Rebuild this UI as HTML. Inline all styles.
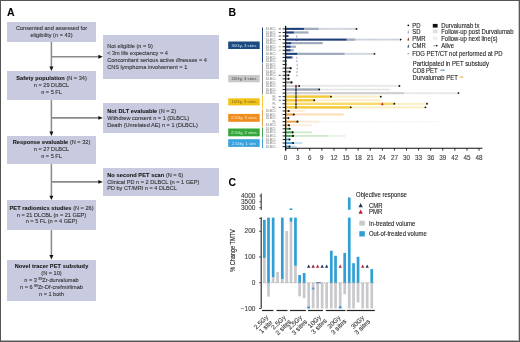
<!DOCTYPE html><html><head><meta charset="utf-8"><title>Figure</title><style>
html,body{margin:0;padding:0;background:#fff;}
#root{will-change:transform;position:relative;width:520px;height:342px;overflow:hidden;background:#fff;font-family:"Liberation Sans", sans-serif;}
.t{position:absolute;white-space:nowrap;line-height:1;-webkit-text-stroke:0.1px #333;} b{color:#111;letter-spacing:0.1px;}
sup{font-size:60%;vertical-align:0;position:relative;top:-0.55em;}
</style></head><body><div id="root">
<div class="t" style="left:7.00px;top:6.65px;font-size:10.5px;color:#000;font-weight:bold;">A</div>
<div style="position:absolute;left:7.00px;top:22.00px;width:89.00px;height:20.00px;background:#c8cadf;"></div>
<div class="t" style="left:7.00px;top:26.40px;width:89.00px;text-align:center;font-size:5.6px;color:#333;font-weight:normal;">Consented and assessed for</div>
<div class="t" style="left:7.00px;top:32.60px;width:89.00px;text-align:center;font-size:5.6px;color:#333;font-weight:normal;">eligibility (n = 43)</div>
<div style="position:absolute;left:7.00px;top:71.00px;width:89.00px;height:29.00px;background:#c8cadf;"></div>
<div class="t" style="left:7.00px;top:76.20px;width:89.00px;text-align:center;font-size:5.6px;color:#333;font-weight:normal;"><b>Safety population</b> (N = 34)</div>
<div class="t" style="left:7.00px;top:82.80px;width:89.00px;text-align:center;font-size:5.6px;color:#333;font-weight:normal;">n = 29 DLBCL</div>
<div class="t" style="left:7.00px;top:89.80px;width:89.00px;text-align:center;font-size:5.6px;color:#333;font-weight:normal;">n = 5 FL</div>
<div style="position:absolute;left:7.00px;top:136.00px;width:89.00px;height:28.00px;background:#c8cadf;"></div>
<div class="t" style="left:7.00px;top:140.20px;width:89.00px;text-align:center;font-size:5.6px;color:#333;font-weight:normal;"><b>Response evaluable</b> (N = 32)</div>
<div class="t" style="left:7.00px;top:147.20px;width:89.00px;text-align:center;font-size:5.6px;color:#333;font-weight:normal;">n = 27 DLBCL</div>
<div class="t" style="left:7.00px;top:153.80px;width:89.00px;text-align:center;font-size:5.6px;color:#333;font-weight:normal;">n = 5 FL</div>
<div style="position:absolute;left:7.00px;top:200.00px;width:89.00px;height:30.00px;background:#c8cadf;"></div>
<div class="t" style="left:7.00px;top:205.90px;width:89.00px;text-align:center;font-size:5.6px;color:#333;font-weight:normal;"><b>PET radiomics studies</b> (N = 26)</div>
<div class="t" style="left:7.00px;top:212.50px;width:89.00px;text-align:center;font-size:5.6px;color:#333;font-weight:normal;">n = 21 DLCBL (n = 21 GEP)</div>
<div class="t" style="left:7.00px;top:219.00px;width:89.00px;text-align:center;font-size:5.6px;color:#333;font-weight:normal;">n = 5 FL (n = 4 GEP)</div>
<div style="position:absolute;left:7.00px;top:259.50px;width:89.00px;height:41.00px;background:#c8cadf;"></div>
<div class="t" style="left:7.00px;top:263.80px;width:89.00px;text-align:center;font-size:5.6px;color:#333;font-weight:normal;"><b>Novel tracer PET substudy</b></div>
<div class="t" style="left:7.00px;top:270.70px;width:89.00px;text-align:center;font-size:5.6px;color:#333;font-weight:normal;">(N = 10)</div>
<div class="t" style="left:7.00px;top:278.20px;width:89.00px;text-align:center;font-size:5.6px;color:#333;font-weight:normal;">n = 3 <sup>89</sup>Zr-durvalumab</div>
<div class="t" style="left:7.00px;top:284.60px;width:89.00px;text-align:center;font-size:5.6px;color:#333;font-weight:normal;">n = 6 <sup>89</sup>Zr-Df-crefmirlimab</div>
<div class="t" style="left:7.00px;top:291.80px;width:89.00px;text-align:center;font-size:5.6px;color:#333;font-weight:normal;">n = 1 both</div>
<div style="position:absolute;left:103.00px;top:34.60px;width:116.00px;height:44.40px;background:#c8cadf;"></div>
<div class="t" style="left:107.20px;top:43.50px;font-size:5.6px;color:#333;font-weight:normal;">Not eligible (n = 9)</div>
<div class="t" style="left:107.20px;top:50.60px;font-size:5.6px;color:#333;font-weight:normal;">&lt; 3m life expectancy = 4</div>
<div class="t" style="left:107.20px;top:57.60px;font-size:5.6px;color:#333;font-weight:normal;">Concomitant serious active <i>illnesses</i> = 4</div>
<div class="t" style="left:107.20px;top:65.00px;font-size:5.6px;color:#333;font-weight:normal;">CNS lymphoma involvement = 1</div>
<div style="position:absolute;left:103.00px;top:103.00px;width:116.00px;height:30.00px;background:#c8cadf;"></div>
<div class="t" style="left:107.20px;top:108.60px;font-size:5.6px;color:#333;font-weight:normal;"><b>Not DLT evaluable</b> (N = 2)</div>
<div class="t" style="left:107.20px;top:116.00px;font-size:5.6px;color:#333;font-weight:normal;">Withdrew consent n = 1 (DLBCL)</div>
<div class="t" style="left:107.20px;top:122.70px;font-size:5.6px;color:#333;font-weight:normal;">Death (Unrelated AE) n = 1 (DLBCL)</div>
<div style="position:absolute;left:103.00px;top:168.00px;width:116.00px;height:27.60px;background:#c8cadf;"></div>
<div class="t" style="left:107.20px;top:172.70px;font-size:5.6px;color:#333;font-weight:normal;"><b>No second PET scan</b> (N = 6)</div>
<div class="t" style="left:107.20px;top:179.60px;font-size:5.6px;color:#333;font-weight:normal;">Clinical PD n = 2 DLBCL (n = 1 GEP)</div>
<div class="t" style="left:107.20px;top:186.40px;font-size:5.6px;color:#333;font-weight:normal;">PD by CT/MRI n = 4 DLBCL</div>
<svg width="520" height="342" style="position:absolute;left:0;top:0"><line x1="51.4" y1="42" x2="51.4" y2="67.7" stroke="#8a8a8a" stroke-width="1.5"/><polygon points="49.4,66.60000000000001 53.4,66.60000000000001 51.4,70.9" fill="#111"/><line x1="51.4" y1="100" x2="51.4" y2="132.7" stroke="#8a8a8a" stroke-width="1.5"/><polygon points="49.4,131.6 53.4,131.6 51.4,135.89999999999998" fill="#111"/><line x1="51.4" y1="164" x2="51.4" y2="196.9" stroke="#8a8a8a" stroke-width="1.5"/><polygon points="49.4,195.8 53.4,195.8 51.4,200.1" fill="#111"/><line x1="51.4" y1="230" x2="51.4" y2="256.2" stroke="#8a8a8a" stroke-width="1.5"/><polygon points="49.4,255.1 53.4,255.1 51.4,259.4" fill="#111"/><line x1="51.4" y1="56.75" x2="99.5" y2="56.75" stroke="#8a8a8a" stroke-width="1.6"/><polygon points="98.4,54.8 98.4,58.7 102.8,56.75" fill="#111"/><line x1="51.4" y1="117.9" x2="99.5" y2="117.9" stroke="#8a8a8a" stroke-width="1.6"/><polygon points="98.4,115.95 98.4,119.85000000000001 102.8,117.9" fill="#111"/><line x1="51.4" y1="181.9" x2="99.5" y2="181.9" stroke="#8a8a8a" stroke-width="1.6"/><polygon points="98.4,179.95000000000002 98.4,183.85 102.8,181.9" fill="#111"/></svg>
<svg width="520" height="342" style="position:absolute;left:0;top:0" font-family='"Liberation Sans", sans-serif'><text x="228.60" y="15.57" font-size="10.5" fill="#000" text-anchor="start" font-weight="bold" >B</text><rect x="228.2" y="41.5" width="31.5" height="7.50" fill="#1b4a80"/><text x="243.95" y="46.71" font-size="4.3" fill="#cfe0f5" text-anchor="middle" font-weight="normal" >30Gy, 3 sites</text><line x1="262.5" y1="27.5" x2="262.5" y2="62.6" stroke="#1c3f7c" stroke-width="1"/><rect x="228.2" y="75.0" width="31.5" height="7.30" fill="#c9c9c9"/><text x="243.95" y="80.11" font-size="4.3" fill="#444" text-anchor="middle" font-weight="normal" >20Gy, 3 sites</text><line x1="262.5" y1="63.4" x2="262.5" y2="94.6" stroke="#8a8a8a" stroke-width="1"/><rect x="228.2" y="98.3" width="31.5" height="7.10" fill="#f2c218"/><text x="243.95" y="103.31" font-size="4.3" fill="#7a6620" text-anchor="middle" font-weight="normal" >10Gy, 3 sites</text><line x1="262.5" y1="95.4" x2="262.5" y2="108.8" stroke="#f4c93a" stroke-width="1"/><rect x="228.2" y="113.9" width="31.5" height="7.90" fill="#ef8d1f"/><text x="243.95" y="119.31" font-size="4.3" fill="#fde6cc" text-anchor="middle" font-weight="normal" >2.5Gy, 3 sites</text><line x1="262.5" y1="109.6" x2="262.5" y2="126.6" stroke="#e8a24a" stroke-width="1"/><rect x="228.2" y="128.5" width="31.5" height="7.80" fill="#34a63a"/><text x="243.95" y="133.86" font-size="4.3" fill="#d8f0d8" text-anchor="middle" font-weight="normal" >2.5Gy, 2 sites</text><line x1="262.5" y1="127.4" x2="262.5" y2="137.6" stroke="#46a550" stroke-width="1"/><rect x="228.2" y="139.2" width="31.5" height="7.70" fill="#3aa2dc"/><text x="243.95" y="144.51" font-size="4.3" fill="#d8eefa" text-anchor="middle" font-weight="normal" >2.5Gy, 1 site</text><line x1="262.5" y1="138.4" x2="262.5" y2="148.0" stroke="#45a6da" stroke-width="1"/><text x="276.30" y="30.02" font-size="3.3" fill="#7a7a7a" text-anchor="end" font-weight="normal" >DLBCL</text><line x1="282.6" y1="28.90" x2="285.6" y2="28.90" stroke="#111" stroke-width="0.9"/><line x1="278.7" y1="28.90" x2="280.9" y2="28.90" stroke="#555" stroke-width="0.9"/><line x1="285.6" y1="28.90" x2="356.5" y2="28.90" stroke="#a0abbd" stroke-width="2.2" opacity="0.3"/><line x1="285.6" y1="28.90" x2="356.5" y2="28.90" stroke="#a0abbd" stroke-width="0.9" stroke-dasharray="0.6 0.9"/><line x1="285.6" y1="28.90" x2="318.7" y2="28.90" stroke="#a0abbd" stroke-width="2.2"/><line x1="285.6" y1="28.90" x2="303.9" y2="28.90" stroke="#1c3f7c" stroke-width="1.9"/><polygon points="295.60,30.10 297.40,30.10 296.50,27.50" fill="#1d4f91"/><circle cx="356.50" cy="28.90" r="0.95" fill="#111"/><text x="276.30" y="33.59" font-size="3.3" fill="#7a7a7a" text-anchor="end" font-weight="normal" >DLBCL</text><line x1="282.6" y1="32.47" x2="285.6" y2="32.47" stroke="#111" stroke-width="0.9"/><line x1="278.7" y1="32.47" x2="280.9" y2="32.47" stroke="#555" stroke-width="0.9"/><line x1="285.6" y1="32.47" x2="308.6" y2="32.47" stroke="#a0abbd" stroke-width="2.2"/><line x1="285.6" y1="32.47" x2="293.8" y2="32.47" stroke="#1c3f7c" stroke-width="1.9"/><text x="276.30" y="37.16" font-size="3.3" fill="#7a7a7a" text-anchor="end" font-weight="normal" >DLBCL</text><line x1="282.6" y1="36.03" x2="285.6" y2="36.03" stroke="#111" stroke-width="0.9"/><line x1="278.7" y1="36.03" x2="280.9" y2="36.03" stroke="#555" stroke-width="0.9"/><line x1="285.6" y1="36.03" x2="288.5" y2="36.03" stroke="#1c3f7c" stroke-width="1.9"/><polygon points="296.00,37.13 297.60,37.13 296.80,34.73" fill="#9c9cc8"/><text x="276.30" y="40.72" font-size="3.3" fill="#7a7a7a" text-anchor="end" font-weight="normal" >DLBCL</text><line x1="282.6" y1="39.60" x2="285.6" y2="39.60" stroke="#111" stroke-width="0.9"/><line x1="278.7" y1="39.60" x2="280.9" y2="39.60" stroke="#555" stroke-width="0.9"/><line x1="285.6" y1="39.60" x2="400.5" y2="39.60" stroke="#a0abbd" stroke-width="2.2" opacity="0.3"/><line x1="285.6" y1="39.60" x2="400.5" y2="39.60" stroke="#a0abbd" stroke-width="0.9" stroke-dasharray="0.6 0.9"/><line x1="285.6" y1="39.60" x2="355.2" y2="39.60" stroke="#a0abbd" stroke-width="2.2"/><line x1="285.6" y1="39.60" x2="346.5" y2="39.60" stroke="#1c3f7c" stroke-width="1.9"/><polygon points="295.60,40.80 297.40,40.80 296.50,38.20" fill="#1d4f91"/><polygon points="400.00,38.50 400.00,40.70 402.00,39.60" fill="#111"/><text x="276.30" y="44.29" font-size="3.3" fill="#7a7a7a" text-anchor="end" font-weight="normal" >DLBCL</text><line x1="282.6" y1="43.17" x2="285.6" y2="43.17" stroke="#111" stroke-width="0.9"/><line x1="285.6" y1="43.17" x2="322.7" y2="43.17" stroke="#a0abbd" stroke-width="2.2"/><line x1="285.6" y1="43.17" x2="291.2" y2="43.17" stroke="#1c3f7c" stroke-width="1.9"/><text x="276.30" y="47.86" font-size="3.3" fill="#7a7a7a" text-anchor="end" font-weight="normal" >DLBCL</text><line x1="282.6" y1="46.73" x2="285.6" y2="46.73" stroke="#111" stroke-width="0.9"/><line x1="278.7" y1="46.73" x2="280.9" y2="46.73" stroke="#c9a27a" stroke-width="0.9"/><line x1="285.6" y1="46.73" x2="295.9" y2="46.73" stroke="#a0abbd" stroke-width="2.2"/><line x1="285.6" y1="46.73" x2="290.5" y2="46.73" stroke="#1c3f7c" stroke-width="1.9"/><text x="276.30" y="51.42" font-size="3.3" fill="#7a7a7a" text-anchor="end" font-weight="normal" >DLBCL</text><line x1="282.6" y1="50.30" x2="285.6" y2="50.30" stroke="#111" stroke-width="0.9"/><line x1="278.7" y1="50.30" x2="280.9" y2="50.30" stroke="#c9a27a" stroke-width="0.9"/><line x1="285.6" y1="50.30" x2="293.8" y2="50.30" stroke="#a0abbd" stroke-width="2.2"/><line x1="285.6" y1="50.30" x2="290.5" y2="50.30" stroke="#1c3f7c" stroke-width="1.9"/><text x="276.30" y="54.99" font-size="3.3" fill="#7a7a7a" text-anchor="end" font-weight="normal" >DLBCL</text><line x1="282.6" y1="53.87" x2="285.6" y2="53.87" stroke="#111" stroke-width="0.9"/><line x1="285.6" y1="53.87" x2="374.5" y2="53.87" stroke="#a0abbd" stroke-width="2.2" opacity="0.3"/><line x1="285.6" y1="53.87" x2="374.5" y2="53.87" stroke="#a0abbd" stroke-width="0.9" stroke-dasharray="0.6 0.9"/><line x1="285.6" y1="53.87" x2="344.5" y2="53.87" stroke="#a0abbd" stroke-width="2.2"/><line x1="285.6" y1="53.87" x2="297.2" y2="53.87" stroke="#1c3f7c" stroke-width="1.9"/><circle cx="374.50" cy="53.87" r="0.95" fill="#111"/><text x="276.30" y="58.56" font-size="3.3" fill="#7a7a7a" text-anchor="end" font-weight="normal" >DLBCL</text><line x1="282.6" y1="57.44" x2="285.6" y2="57.44" stroke="#111" stroke-width="0.9"/><line x1="285.6" y1="57.44" x2="293.2" y2="57.44" stroke="#a0abbd" stroke-width="2.2"/><line x1="285.6" y1="57.44" x2="291.8" y2="57.44" stroke="#1c3f7c" stroke-width="1.9"/><polygon points="296.00,58.54 297.60,58.54 296.80,56.14" fill="#9c9cc8"/><text x="276.30" y="62.12" font-size="3.3" fill="#7a7a7a" text-anchor="end" font-weight="normal" >DLBCL</text><line x1="282.6" y1="61.00" x2="285.6" y2="61.00" stroke="#111" stroke-width="0.9"/><line x1="285.6" y1="61.00" x2="286.6" y2="61.00" stroke="#1c3f7c" stroke-width="1.9"/><polygon points="296.00,62.10 297.60,62.10 296.80,59.70" fill="#9c9cc8"/><text x="276.30" y="65.69" font-size="3.3" fill="#7a7a7a" text-anchor="end" font-weight="normal" >DLBCL</text><line x1="282.6" y1="64.57" x2="285.6" y2="64.57" stroke="#111" stroke-width="0.9"/><line x1="285.6" y1="64.57" x2="287.1" y2="64.57" stroke="#8a8a8a" stroke-width="1.9"/><polygon points="296.40,65.67 298.00,65.67 297.20,63.27" fill="#9c9cc8"/><text x="276.30" y="69.26" font-size="3.3" fill="#7a7a7a" text-anchor="end" font-weight="normal" >DLBCL</text><line x1="282.6" y1="68.14" x2="285.6" y2="68.14" stroke="#111" stroke-width="0.9"/><line x1="285.6" y1="68.14" x2="290.7" y2="68.14" stroke="#8a8a8a" stroke-width="1.9"/><polygon points="296.40,69.24 298.00,69.24 297.20,66.84" fill="#9c9cc8"/><circle cx="290.70" cy="68.14" r="1.05" fill="#111"/><text x="276.30" y="72.83" font-size="3.3" fill="#7a7a7a" text-anchor="end" font-weight="normal" >DLBCL</text><line x1="282.6" y1="71.70" x2="285.6" y2="71.70" stroke="#111" stroke-width="0.9"/><line x1="285.6" y1="71.70" x2="289.8" y2="71.70" stroke="#8a8a8a" stroke-width="1.9"/><polygon points="296.20,72.80 297.80,72.80 297.00,70.40" fill="#9c9cc8"/><circle cx="289.80" cy="71.70" r="1.05" fill="#111"/><text x="276.30" y="76.39" font-size="3.3" fill="#7a7a7a" text-anchor="end" font-weight="normal" >DLBCL</text><line x1="282.6" y1="75.27" x2="285.6" y2="75.27" stroke="#111" stroke-width="0.9"/><line x1="278.7" y1="75.27" x2="280.9" y2="75.27" stroke="#555" stroke-width="0.9"/><line x1="285.6" y1="75.27" x2="288.5" y2="75.27" stroke="#8a8a8a" stroke-width="1.9"/><polygon points="296.20,76.37 297.80,76.37 297.00,73.97" fill="#9c9cc8"/><circle cx="288.50" cy="75.27" r="1.05" fill="#111"/><text x="276.30" y="79.96" font-size="3.3" fill="#7a7a7a" text-anchor="end" font-weight="normal" >DLBCL</text><line x1="282.6" y1="78.84" x2="285.6" y2="78.84" stroke="#111" stroke-width="0.9"/><line x1="285.6" y1="78.84" x2="288.7" y2="78.84" stroke="#8a8a8a" stroke-width="1.9"/><circle cx="288.70" cy="78.84" r="1.05" fill="#111"/><text x="276.30" y="83.53" font-size="3.3" fill="#7a7a7a" text-anchor="end" font-weight="normal" >DLBCL</text><line x1="282.6" y1="82.41" x2="285.6" y2="82.41" stroke="#111" stroke-width="0.9"/><line x1="285.6" y1="82.41" x2="291.6" y2="82.41" stroke="#8a8a8a" stroke-width="1.9"/><circle cx="291.60" cy="82.41" r="1.05" fill="#111"/><text x="276.30" y="87.09" font-size="3.3" fill="#7a7a7a" text-anchor="end" font-weight="normal" >DLBCL</text><line x1="282.6" y1="85.97" x2="285.6" y2="85.97" stroke="#111" stroke-width="0.9"/><line x1="285.6" y1="85.97" x2="399.4" y2="85.97" stroke="#d2d2d4" stroke-width="2.2" opacity="0.3"/><line x1="285.6" y1="85.97" x2="399.4" y2="85.97" stroke="#d2d2d4" stroke-width="0.9" stroke-dasharray="0.6 0.9"/><line x1="285.6" y1="85.97" x2="299.2" y2="85.97" stroke="#d2d2d4" stroke-width="2.2"/><circle cx="299.20" cy="85.97" r="0.95" fill="#111"/><circle cx="399.40" cy="85.97" r="0.95" fill="#111"/><text x="276.30" y="90.66" font-size="3.3" fill="#7a7a7a" text-anchor="end" font-weight="normal" >DLBCL</text><line x1="282.6" y1="89.54" x2="285.6" y2="89.54" stroke="#111" stroke-width="0.9"/><line x1="285.6" y1="89.54" x2="390" y2="89.54" stroke="#d2d2d4" stroke-width="2.2" opacity="0.3"/><line x1="285.6" y1="89.54" x2="390" y2="89.54" stroke="#d2d2d4" stroke-width="0.9" stroke-dasharray="0.6 0.9"/><line x1="285.6" y1="89.54" x2="319.2" y2="89.54" stroke="#d2d2d4" stroke-width="2.2"/><line x1="285.6" y1="89.54" x2="319.2" y2="89.54" stroke="#9aa6b4" stroke-width="1.9"/><circle cx="319.20" cy="89.54" r="0.95" fill="#111"/><text x="276.30" y="94.23" font-size="3.3" fill="#7a7a7a" text-anchor="end" font-weight="normal" >DLBCL</text><line x1="282.6" y1="93.11" x2="285.6" y2="93.11" stroke="#111" stroke-width="0.9"/><line x1="285.6" y1="93.11" x2="458.5" y2="93.11" stroke="#d2d2d4" stroke-width="2.2" opacity="0.3"/><line x1="285.6" y1="93.11" x2="458.5" y2="93.11" stroke="#d2d2d4" stroke-width="0.9" stroke-dasharray="0.6 0.9"/><line x1="285.6" y1="93.11" x2="404.2" y2="93.11" stroke="#d2d2d4" stroke-width="2.2"/><circle cx="458.50" cy="93.11" r="0.95" fill="#111"/><text x="276.30" y="97.80" font-size="3.3" fill="#7a7a7a" text-anchor="end" font-weight="normal" >FL</text><line x1="282.6" y1="96.67" x2="285.6" y2="96.67" stroke="#111" stroke-width="0.9"/><line x1="278.7" y1="96.67" x2="280.9" y2="96.67" stroke="#4a64a0" stroke-width="0.9"/><line x1="285.6" y1="96.67" x2="380.8" y2="96.67" stroke="#fcebb0" stroke-width="2.2" opacity="0.6"/><line x1="285.6" y1="96.67" x2="380.8" y2="96.67" stroke="#fcebb0" stroke-width="0.9" stroke-dasharray="0.6 0.9"/><line x1="285.6" y1="96.67" x2="331.0" y2="96.67" stroke="#fcebb0" stroke-width="2.2"/><line x1="285.6" y1="96.67" x2="331.0" y2="96.67" stroke="#f4c93a" stroke-width="2.3"/><circle cx="331.00" cy="96.67" r="0.95" fill="#111"/><circle cx="380.80" cy="96.67" r="0.95" fill="#111"/><text x="276.30" y="101.36" font-size="3.3" fill="#7a7a7a" text-anchor="end" font-weight="normal" >FL</text><line x1="282.6" y1="100.24" x2="285.6" y2="100.24" stroke="#111" stroke-width="0.9"/><line x1="278.7" y1="100.24" x2="280.9" y2="100.24" stroke="#4a64a0" stroke-width="0.9"/><line x1="285.6" y1="100.24" x2="381.5" y2="100.24" stroke="#fcebb0" stroke-width="2.2" opacity="0.6"/><line x1="285.6" y1="100.24" x2="381.5" y2="100.24" stroke="#fcebb0" stroke-width="0.9" stroke-dasharray="0.6 0.9"/><line x1="285.6" y1="100.24" x2="314.2" y2="100.24" stroke="#fcebb0" stroke-width="2.2"/><line x1="285.6" y1="100.24" x2="314.2" y2="100.24" stroke="#f4c93a" stroke-width="2.3"/><circle cx="314.20" cy="100.24" r="0.95" fill="#111"/><text x="276.30" y="104.93" font-size="3.3" fill="#7a7a7a" text-anchor="end" font-weight="normal" >FL</text><line x1="282.6" y1="103.81" x2="285.6" y2="103.81" stroke="#111" stroke-width="0.9"/><line x1="285.6" y1="103.81" x2="427.0" y2="103.81" stroke="#fcebb0" stroke-width="2.2" opacity="0.6"/><line x1="285.6" y1="103.81" x2="427.0" y2="103.81" stroke="#fcebb0" stroke-width="0.9" stroke-dasharray="0.6 0.9"/><line x1="285.6" y1="103.81" x2="394.3" y2="103.81" stroke="#fcebb0" stroke-width="2.2"/><line x1="285.6" y1="103.81" x2="394.3" y2="103.81" stroke="#f7da6a" stroke-width="2.3"/><circle cx="394.30" cy="103.81" r="0.95" fill="#111"/><polygon points="381.00,105.31 383.60,105.31 382.30,102.11" fill="#c0282d"/><circle cx="427.00" cy="103.81" r="0.95" fill="#111"/><text x="276.30" y="108.50" font-size="3.3" fill="#7a7a7a" text-anchor="end" font-weight="normal" >FL</text><line x1="282.6" y1="107.37" x2="285.6" y2="107.37" stroke="#111" stroke-width="0.9"/><line x1="278.7" y1="107.37" x2="280.9" y2="107.37" stroke="#4a64a0" stroke-width="0.9"/><line x1="285.6" y1="107.37" x2="425.4" y2="107.37" stroke="#fcebb0" stroke-width="2.2" opacity="0.6"/><line x1="285.6" y1="107.37" x2="425.4" y2="107.37" stroke="#fcebb0" stroke-width="0.9" stroke-dasharray="0.6 0.9"/><line x1="285.6" y1="107.37" x2="350.8" y2="107.37" stroke="#fcebb0" stroke-width="2.2"/><line x1="285.6" y1="107.37" x2="350.8" y2="107.37" stroke="#f4c93a" stroke-width="2.3"/><circle cx="350.80" cy="107.37" r="0.95" fill="#111"/><circle cx="425.40" cy="107.37" r="0.95" fill="#111"/><text x="276.30" y="112.06" font-size="3.3" fill="#7a7a7a" text-anchor="end" font-weight="normal" >DLBCL</text><line x1="282.6" y1="110.94" x2="285.6" y2="110.94" stroke="#111" stroke-width="0.9"/><line x1="285.6" y1="110.94" x2="305" y2="110.94" stroke="#fbdcb4" stroke-width="2.2" opacity="0.3"/><line x1="285.6" y1="110.94" x2="305" y2="110.94" stroke="#fbdcb4" stroke-width="0.9" stroke-dasharray="0.6 0.9"/><line x1="285.6" y1="110.94" x2="288.7" y2="110.94" stroke="#e8a24a" stroke-width="1.9"/><circle cx="288.70" cy="110.94" r="1.05" fill="#111"/><text x="276.30" y="115.63" font-size="3.3" fill="#7a7a7a" text-anchor="end" font-weight="normal" >DLBCL</text><line x1="282.6" y1="114.51" x2="285.6" y2="114.51" stroke="#111" stroke-width="0.9"/><line x1="285.6" y1="114.51" x2="343.6" y2="114.51" stroke="#fbdcb4" stroke-width="1.8"/><line x1="285.6" y1="114.51" x2="293.8" y2="114.51" stroke="#e8a24a" stroke-width="1.9"/><circle cx="293.80" cy="114.51" r="1.05" fill="#111"/><text x="276.30" y="119.20" font-size="3.3" fill="#7a7a7a" text-anchor="end" font-weight="normal" >DLBCL</text><line x1="282.6" y1="118.08" x2="285.6" y2="118.08" stroke="#111" stroke-width="0.9"/><line x1="285.6" y1="118.08" x2="288.4" y2="118.08" stroke="#e8a24a" stroke-width="1.9"/><circle cx="288.40" cy="118.08" r="1.05" fill="#111"/><line x1="285.6" y1="121.64" x2="438.4" y2="121.64" stroke="#e2e2e6" stroke-width="0.9" stroke-dasharray="0.6 0.9"/><text x="276.30" y="122.76" font-size="3.3" fill="#7a7a7a" text-anchor="end" font-weight="normal" >FL</text><line x1="282.6" y1="121.64" x2="285.6" y2="121.64" stroke="#111" stroke-width="0.9"/><line x1="285.6" y1="121.64" x2="319.3" y2="121.64" stroke="#fbdcb4" stroke-width="2.2" opacity="0.3"/><line x1="285.6" y1="121.64" x2="319.3" y2="121.64" stroke="#fbdcb4" stroke-width="0.9" stroke-dasharray="0.6 0.9"/><line x1="285.6" y1="121.64" x2="297.5" y2="121.64" stroke="#e8a24a" stroke-width="1.9"/><circle cx="297.50" cy="121.64" r="1.05" fill="#111"/><text x="276.30" y="126.33" font-size="3.3" fill="#7a7a7a" text-anchor="end" font-weight="normal" >DLBCL</text><line x1="282.6" y1="125.21" x2="285.6" y2="125.21" stroke="#111" stroke-width="0.9"/><line x1="285.6" y1="125.21" x2="312" y2="125.21" stroke="#fbdcb4" stroke-width="2.2" opacity="0.3"/><line x1="285.6" y1="125.21" x2="312" y2="125.21" stroke="#fbdcb4" stroke-width="0.9" stroke-dasharray="0.6 0.9"/><line x1="285.6" y1="125.21" x2="289.0" y2="125.21" stroke="#e8a24a" stroke-width="1.9"/><circle cx="289.00" cy="125.21" r="1.05" fill="#111"/><text x="276.30" y="129.90" font-size="3.3" fill="#7a7a7a" text-anchor="end" font-weight="normal" >DLBCL</text><line x1="282.6" y1="128.78" x2="285.6" y2="128.78" stroke="#111" stroke-width="0.9"/><line x1="285.6" y1="128.78" x2="289.7" y2="128.78" stroke="#46a550" stroke-width="1.9"/><circle cx="289.70" cy="128.78" r="1.05" fill="#111"/><text x="276.30" y="133.47" font-size="3.3" fill="#7a7a7a" text-anchor="end" font-weight="normal" >DLBCL</text><line x1="282.6" y1="132.34" x2="285.6" y2="132.34" stroke="#111" stroke-width="0.9"/><line x1="285.6" y1="132.34" x2="312" y2="132.34" stroke="#d0eace" stroke-width="1.8"/><line x1="285.6" y1="132.34" x2="292.7" y2="132.34" stroke="#46a550" stroke-width="1.9"/><circle cx="292.70" cy="132.34" r="1.05" fill="#111"/><text x="276.30" y="137.03" font-size="3.3" fill="#7a7a7a" text-anchor="end" font-weight="normal" >DLBCL</text><line x1="282.6" y1="135.91" x2="285.6" y2="135.91" stroke="#111" stroke-width="0.9"/><line x1="285.6" y1="135.91" x2="345.6" y2="135.91" stroke="#d0eace" stroke-width="2.2" opacity="0.3"/><line x1="285.6" y1="135.91" x2="345.6" y2="135.91" stroke="#d0eace" stroke-width="0.9" stroke-dasharray="0.6 0.9"/><line x1="285.6" y1="135.91" x2="328" y2="135.91" stroke="#d0eace" stroke-width="1.8"/><line x1="285.6" y1="135.91" x2="293.1" y2="135.91" stroke="#46a550" stroke-width="1.9"/><circle cx="293.10" cy="135.91" r="1.05" fill="#111"/><text x="276.30" y="140.60" font-size="3.3" fill="#7a7a7a" text-anchor="end" font-weight="normal" >DLBCL</text><line x1="282.6" y1="139.48" x2="285.6" y2="139.48" stroke="#111" stroke-width="0.9"/><line x1="285.6" y1="139.48" x2="289.5" y2="139.48" stroke="#45a6da" stroke-width="1.9"/><circle cx="289.50" cy="139.48" r="1.05" fill="#111"/><text x="276.30" y="144.17" font-size="3.3" fill="#7a7a7a" text-anchor="end" font-weight="normal" >DLBCL</text><line x1="282.6" y1="143.04" x2="285.6" y2="143.04" stroke="#111" stroke-width="0.9"/><line x1="285.6" y1="143.04" x2="302.5" y2="143.04" stroke="#bfe0f3" stroke-width="1.8"/><line x1="285.6" y1="143.04" x2="293.1" y2="143.04" stroke="#45a6da" stroke-width="1.9"/><circle cx="293.10" cy="143.04" r="1.05" fill="#111"/><text x="276.30" y="147.73" font-size="3.3" fill="#7a7a7a" text-anchor="end" font-weight="normal" >DLBCL</text><line x1="282.6" y1="146.61" x2="285.6" y2="146.61" stroke="#111" stroke-width="0.9"/><line x1="285.6" y1="146.61" x2="296.5" y2="146.61" stroke="#bfe0f3" stroke-width="1.8"/><line x1="285.6" y1="146.61" x2="289.5" y2="146.61" stroke="#45a6da" stroke-width="1.9"/><circle cx="289.50" cy="146.61" r="1.05" fill="#111"/><line x1="296" y1="85" x2="296" y2="108" stroke="#333" stroke-width="0.9"/><polygon points="295.00,87.17 297.00,87.17 296.00,84.57" fill="#8b2030"/><polygon points="295.00,90.74 297.00,90.74 296.00,88.14" fill="#1d3f7a"/><polygon points="295.00,94.31 297.00,94.31 296.00,91.71" fill="#1d4f6a"/><polygon points="295.00,97.87 297.00,97.87 296.00,95.27" fill="#2a5a2a"/><polygon points="295.00,101.44 297.00,101.44 296.00,98.84" fill="#c0282d"/><polygon points="295.00,105.01 297.00,105.01 296.00,102.41" fill="#3a3a3a"/><polygon points="295.00,108.57 297.00,108.57 296.00,105.97" fill="#2a5a2a"/><line x1="285.6" y1="25.8" x2="285.6" y2="150.5" stroke="#111" stroke-width="1.3"/><line x1="285.0" y1="148.3" x2="482.4" y2="148.3" stroke="#111" stroke-width="1.1"/><line x1="285.60" y1="148.3" x2="285.60" y2="150.6" stroke="#111" stroke-width="0.9"/><text x="285.60" y="159.74" font-size="6.3" fill="#3a3a3a" text-anchor="middle" font-weight="normal" stroke="#3a3a3a" stroke-width="0.1" >0</text><line x1="297.69" y1="148.3" x2="297.69" y2="150.6" stroke="#111" stroke-width="0.9"/><text x="297.69" y="159.74" font-size="6.3" fill="#3a3a3a" text-anchor="middle" font-weight="normal" stroke="#3a3a3a" stroke-width="0.1" >3</text><line x1="309.78" y1="148.3" x2="309.78" y2="150.6" stroke="#111" stroke-width="0.9"/><text x="309.78" y="159.74" font-size="6.3" fill="#3a3a3a" text-anchor="middle" font-weight="normal" stroke="#3a3a3a" stroke-width="0.1" >6</text><line x1="321.87" y1="148.3" x2="321.87" y2="150.6" stroke="#111" stroke-width="0.9"/><text x="321.87" y="159.74" font-size="6.3" fill="#3a3a3a" text-anchor="middle" font-weight="normal" stroke="#3a3a3a" stroke-width="0.1" >9</text><line x1="333.96" y1="148.3" x2="333.96" y2="150.6" stroke="#111" stroke-width="0.9"/><text x="333.96" y="159.74" font-size="6.3" fill="#3a3a3a" text-anchor="middle" font-weight="normal" stroke="#3a3a3a" stroke-width="0.1" >12</text><line x1="346.05" y1="148.3" x2="346.05" y2="150.6" stroke="#111" stroke-width="0.9"/><text x="346.05" y="159.74" font-size="6.3" fill="#3a3a3a" text-anchor="middle" font-weight="normal" stroke="#3a3a3a" stroke-width="0.1" >15</text><line x1="358.14" y1="148.3" x2="358.14" y2="150.6" stroke="#111" stroke-width="0.9"/><text x="358.14" y="159.74" font-size="6.3" fill="#3a3a3a" text-anchor="middle" font-weight="normal" stroke="#3a3a3a" stroke-width="0.1" >18</text><line x1="370.23" y1="148.3" x2="370.23" y2="150.6" stroke="#111" stroke-width="0.9"/><text x="370.23" y="159.74" font-size="6.3" fill="#3a3a3a" text-anchor="middle" font-weight="normal" stroke="#3a3a3a" stroke-width="0.1" >21</text><line x1="382.32" y1="148.3" x2="382.32" y2="150.6" stroke="#111" stroke-width="0.9"/><text x="382.32" y="159.74" font-size="6.3" fill="#3a3a3a" text-anchor="middle" font-weight="normal" stroke="#3a3a3a" stroke-width="0.1" >24</text><line x1="394.41" y1="148.3" x2="394.41" y2="150.6" stroke="#111" stroke-width="0.9"/><text x="394.41" y="159.74" font-size="6.3" fill="#3a3a3a" text-anchor="middle" font-weight="normal" stroke="#3a3a3a" stroke-width="0.1" >27</text><line x1="406.50" y1="148.3" x2="406.50" y2="150.6" stroke="#111" stroke-width="0.9"/><text x="406.50" y="159.74" font-size="6.3" fill="#3a3a3a" text-anchor="middle" font-weight="normal" stroke="#3a3a3a" stroke-width="0.1" >30</text><line x1="418.59" y1="148.3" x2="418.59" y2="150.6" stroke="#111" stroke-width="0.9"/><text x="418.59" y="159.74" font-size="6.3" fill="#3a3a3a" text-anchor="middle" font-weight="normal" stroke="#3a3a3a" stroke-width="0.1" >33</text><line x1="430.68" y1="148.3" x2="430.68" y2="150.6" stroke="#111" stroke-width="0.9"/><text x="430.68" y="159.74" font-size="6.3" fill="#3a3a3a" text-anchor="middle" font-weight="normal" stroke="#3a3a3a" stroke-width="0.1" >36</text><line x1="442.77" y1="148.3" x2="442.77" y2="150.6" stroke="#111" stroke-width="0.9"/><text x="442.77" y="159.74" font-size="6.3" fill="#3a3a3a" text-anchor="middle" font-weight="normal" stroke="#3a3a3a" stroke-width="0.1" >39</text><line x1="454.86" y1="148.3" x2="454.86" y2="150.6" stroke="#111" stroke-width="0.9"/><text x="454.86" y="159.74" font-size="6.3" fill="#3a3a3a" text-anchor="middle" font-weight="normal" stroke="#3a3a3a" stroke-width="0.1" >42</text><line x1="466.95" y1="148.3" x2="466.95" y2="150.6" stroke="#111" stroke-width="0.9"/><text x="466.95" y="159.74" font-size="6.3" fill="#3a3a3a" text-anchor="middle" font-weight="normal" stroke="#3a3a3a" stroke-width="0.1" >45</text><line x1="479.04" y1="148.3" x2="479.04" y2="150.6" stroke="#111" stroke-width="0.9"/><text x="479.04" y="159.74" font-size="6.3" fill="#3a3a3a" text-anchor="middle" font-weight="normal" stroke="#3a3a3a" stroke-width="0.1" >48</text><circle cx="408.3" cy="25.3" r="0.9" fill="#111"/><text x="0" y="0" transform="translate(412.30,27.94) scale(0.945,1)" font-size="6.3" fill="#222" text-anchor="start" font-weight="normal" stroke="#222" stroke-width="0.1" >PD</text><polygon points="407.40000000000003,33.2 409.2,33.2 408.3,29.7" fill="#a4a4c8"/><text x="0" y="0" transform="translate(412.30,33.94) scale(0.945,1)" font-size="6.3" fill="#222" text-anchor="start" font-weight="normal" stroke="#222" stroke-width="0.1" >SD</text><polygon points="407.40000000000003,40.5 409.2,40.5 408.3,37.0" fill="#7a2a22"/><text x="0" y="0" transform="translate(412.30,41.14) scale(0.945,1)" font-size="6.3" fill="#222" text-anchor="start" font-weight="normal" stroke="#222" stroke-width="0.1" >PMR</text><polygon points="407.40000000000003,47.6 409.2,47.6 408.3,44.1" fill="#1e4a5e"/><text x="0" y="0" transform="translate(412.30,48.34) scale(0.945,1)" font-size="6.3" fill="#222" text-anchor="start" font-weight="normal" stroke="#222" stroke-width="0.1" >CMR</text><circle cx="408.3" cy="53.6" r="0.9" fill="#aaa"/><text x="0" y="0" transform="translate(412.30,56.24) scale(0.945,1)" font-size="6.3" fill="#222" text-anchor="start" font-weight="normal" stroke="#222" stroke-width="0.1" >FDG PET/CT not performed at PD</text><rect x="432.8" y="23.9" width="4.8" height="3.7" fill="#111"/><text x="0" y="0" transform="translate(441.20,27.94) scale(0.945,1)" font-size="6.3" fill="#222" text-anchor="start" font-weight="normal" stroke="#222" stroke-width="0.1" >Durvalumab tx</text><rect x="432.8" y="29.5" width="4.8" height="3.7" fill="#e0e0e0"/><text x="0" y="0" transform="translate(441.20,33.84) scale(0.945,1)" font-size="6.3" fill="#222" text-anchor="start" font-weight="normal" stroke="#222" stroke-width="0.1" >Follow-up post Durvalumab</text><rect x="432.8" y="36.5" width="4.8" height="3.7" fill="#f0f0f0"/><text x="0" y="0" transform="translate(441.20,41.04) scale(0.945,1)" font-size="6.3" fill="#222" text-anchor="start" font-weight="normal" stroke="#222" stroke-width="0.1" >Follow-up next line(s)</text><line x1="433" y1="45.7" x2="436" y2="45.7" stroke="#111" stroke-width="0.6" stroke-dasharray="0.6 0.6"/><polygon points="436,44.7 436,46.7 438,45.7" fill="#111"/><text x="0" y="0" transform="translate(441.20,48.34) scale(0.945,1)" font-size="6.3" fill="#222" text-anchor="start" font-weight="normal" stroke="#222" stroke-width="0.1" >Alive</text><text x="0" y="0" transform="translate(412.80,66.14) scale(0.945,1)" font-size="6.3" fill="#222" text-anchor="start" font-weight="normal" stroke="#222" stroke-width="0.1" >Participated in PET substudy</text><text x="0" y="0" transform="translate(412.60,72.74) scale(0.945,1)" font-size="6.3" fill="#222" text-anchor="start" font-weight="normal" stroke="#222" stroke-width="0.1" >CD8 PET</text><line x1="440.3" y1="70.2" x2="443.5" y2="70.2" stroke="#2e6fb5" stroke-width="0.8"/><polygon points="443.3,69.3 443.3,71.1 444.9,70.2" fill="#2e6fb5"/><text x="0" y="0" transform="translate(412.60,79.64) scale(0.945,1)" font-size="6.3" fill="#222" text-anchor="start" font-weight="normal" stroke="#222" stroke-width="0.1" >Durvalumab PET</text><line x1="459.3" y1="77.1" x2="462.5" y2="77.1" stroke="#f0a040" stroke-width="0.8"/><polygon points="462.3,76.2 462.3,78.0 463.9,77.1" fill="#f0a040"/><text x="228.40" y="185.87" font-size="10.5" fill="#000" text-anchor="start" font-weight="bold" >C</text><text x="0" y="0" font-size="6.4" fill="#222" stroke="#222" stroke-width="0.1" text-anchor="middle" transform="translate(234.7,250.6) rotate(-90) scale(0.87,1)">% Change TMTV</text><line x1="261.2" y1="193.4" x2="261.2" y2="209.9" stroke="#333" stroke-width="1.1"/><line x1="259.4" y1="196.0" x2="261.2" y2="196.0" stroke="#333" stroke-width="0.8"/><text x="255.40" y="198.21" font-size="6.5" fill="#3a3a3a" text-anchor="end" font-weight="normal" stroke="#3a3a3a" stroke-width="0.1" >4000</text><line x1="259.4" y1="201.8" x2="261.2" y2="201.8" stroke="#333" stroke-width="0.8"/><text x="255.40" y="204.01" font-size="6.5" fill="#3a3a3a" text-anchor="end" font-weight="normal" stroke="#3a3a3a" stroke-width="0.1" >3500</text><line x1="259.4" y1="207.6" x2="261.2" y2="207.6" stroke="#333" stroke-width="0.8"/><text x="255.40" y="209.81" font-size="6.5" fill="#3a3a3a" text-anchor="end" font-weight="normal" stroke="#3a3a3a" stroke-width="0.1" >3000</text><line x1="261.2" y1="217.2" x2="261.2" y2="308.50" stroke="#2a2a2a" stroke-width="1.15"/><line x1="259.0" y1="218.38" x2="261.2" y2="218.38" stroke="#333" stroke-width="0.8"/><line x1="259.0" y1="231.25" x2="261.2" y2="231.25" stroke="#333" stroke-width="0.8"/><text x="255.40" y="233.46" font-size="6.5" fill="#3a3a3a" text-anchor="end" font-weight="normal" stroke="#3a3a3a" stroke-width="0.1" >200</text><line x1="259.0" y1="257.00" x2="261.2" y2="257.00" stroke="#333" stroke-width="0.8"/><text x="255.40" y="259.21" font-size="6.5" fill="#3a3a3a" text-anchor="end" font-weight="normal" stroke="#3a3a3a" stroke-width="0.1" >100</text><line x1="259.0" y1="282.75" x2="261.2" y2="282.75" stroke="#333" stroke-width="0.8"/><text x="255.40" y="284.96" font-size="6.5" fill="#3a3a3a" text-anchor="end" font-weight="normal" stroke="#3a3a3a" stroke-width="0.1" >0</text><line x1="259.0" y1="308.50" x2="261.2" y2="308.50" stroke="#333" stroke-width="0.8"/><text x="255.40" y="310.71" font-size="6.5" fill="#3a3a3a" text-anchor="end" font-weight="normal" stroke="#3a3a3a" stroke-width="0.1" >−100</text><rect x="263.00" y="257.90" width="2.7" height="24.85" fill="#c9c9cd"/><rect x="263.00" y="219.90" width="2.7" height="38.00" fill="#2f9fd4"/><rect x="267.15" y="282.75" width="2.7" height="13.85" fill="#c9c9cd"/><rect x="267.15" y="217.60" width="2.7" height="65.15" fill="#2f9fd4"/><rect x="271.80" y="277.20" width="2.7" height="5.55" fill="#c9c9cd"/><rect x="271.80" y="217.60" width="2.7" height="59.60" fill="#2f9fd4"/><rect x="276.20" y="271.90" width="2.7" height="10.85" fill="#c9c9cd"/><rect x="280.95" y="279.00" width="2.7" height="3.75" fill="#c9c9cd"/><rect x="280.95" y="217.60" width="2.7" height="61.40" fill="#2f9fd4"/><rect x="285.35" y="231.00" width="2.7" height="51.75" fill="#c9c9cd"/><rect x="289.65" y="221.70" width="2.7" height="61.05" fill="#c9c9cd"/><rect x="289.65" y="217.60" width="2.7" height="4.10" fill="#2f9fd4"/><rect x="294.10" y="265.80" width="2.7" height="16.95" fill="#c9c9cd"/><rect x="294.10" y="217.60" width="2.7" height="48.20" fill="#2f9fd4"/><rect x="298.25" y="282.75" width="2.7" height="13.65" fill="#c9c9cd"/><rect x="298.25" y="275.00" width="2.7" height="7.75" fill="#2f9fd4"/><rect x="302.80" y="282.75" width="2.7" height="15.55" fill="#c9c9cd"/><rect x="302.80" y="273.00" width="2.7" height="9.75" fill="#2f9fd4"/><rect x="307.30" y="282.75" width="2.7" height="25.65" fill="#c9c9cd"/><rect x="311.80" y="282.75" width="2.7" height="25.65" fill="#c9c9cd"/><rect x="316.30" y="282.75" width="2.7" height="25.65" fill="#c9c9cd"/><rect x="320.80" y="282.75" width="2.7" height="25.65" fill="#c9c9cd"/><rect x="325.30" y="282.75" width="2.7" height="25.65" fill="#c9c9cd"/><rect x="329.95" y="282.75" width="2.7" height="25.65" fill="#c9c9cd"/><rect x="329.95" y="250.70" width="2.7" height="32.05" fill="#2f9fd4"/><rect x="334.20" y="282.75" width="2.7" height="25.65" fill="#c9c9cd"/><rect x="334.20" y="255.80" width="2.7" height="26.95" fill="#2f9fd4"/><rect x="338.85" y="282.75" width="2.7" height="25.65" fill="#c9c9cd"/><rect x="343.35" y="282.75" width="2.7" height="11.45" fill="#c9c9cd"/><rect x="343.35" y="252.90" width="2.7" height="29.85" fill="#2f9fd4"/><rect x="347.90" y="282.75" width="2.7" height="25.65" fill="#c9c9cd"/><rect x="347.90" y="217.60" width="2.7" height="65.15" fill="#2f9fd4"/><rect x="352.20" y="282.75" width="2.7" height="25.65" fill="#c9c9cd"/><rect x="352.20" y="263.20" width="2.7" height="19.55" fill="#2f9fd4"/><rect x="356.70" y="282.75" width="2.7" height="19.65" fill="#c9c9cd"/><rect x="356.70" y="256.80" width="2.7" height="25.95" fill="#2f9fd4"/><rect x="361.35" y="282.75" width="2.7" height="25.65" fill="#c9c9cd"/><rect x="365.85" y="282.75" width="2.7" height="25.65" fill="#c9c9cd"/><rect x="370.40" y="282.75" width="2.7" height="25.65" fill="#c9c9cd"/><rect x="370.40" y="269.10" width="2.7" height="13.65" fill="#2f9fd4"/><rect x="289.65" y="208.4" width="2.7" height="1.6" fill="#2f9fd4"/><rect x="347.90" y="197.5" width="2.7" height="12.3" fill="#2f9fd4"/><rect x="307.30" y="306.5" width="2.7" height="1.9" fill="#2f9fd4"/><rect x="338.85" y="306.3" width="2.7" height="2.1" fill="#2f9fd4"/><rect x="311.80" y="287.6" width="2.7" height="1.9" fill="#6a98d0"/><rect x="267.15" y="282.75" width="2.7" height="3.6" fill="#b4cce4"/><rect x="316.00" y="282.25" width="5" height="1.0" fill="#5a7aa8"/><line x1="261.2" y1="282.75" x2="375" y2="282.75" stroke="#666" stroke-width="0.6" stroke-dasharray="0.7 1.0"/><polygon points="307.00,267.8 310.30,267.8 308.65,264.6" fill="#1f2f55"/><polygon points="311.50,267.8 314.80,267.8 313.15,264.6" fill="#8b1c2c"/><polygon points="316.00,267.8 319.30,267.8 317.65,264.6" fill="#b8203a"/><polygon points="320.50,267.8 323.80,267.8 322.15,264.6" fill="#1f3560"/><polygon points="325.00,267.8 328.30,267.8 326.65,264.6" fill="#1f3560"/><polygon points="338.55,267.8 341.85,267.8 340.20,264.6" fill="#b8203a"/><polygon points="361.05,267.8 364.35,267.8 362.70,264.6" fill="#b8203a"/><polygon points="365.55,267.8 368.85,267.8 367.20,264.6" fill="#1f3560"/><line x1="262.0" y1="310.5" x2="273.4" y2="310.5" stroke="#222" stroke-width="1.2"/><line x1="276.5" y1="310.5" x2="287.5" y2="310.5" stroke="#222" stroke-width="1.2"/><line x1="290.0" y1="310.5" x2="305.9" y2="310.5" stroke="#222" stroke-width="1.2"/><line x1="307.9" y1="310.5" x2="322.9" y2="310.5" stroke="#222" stroke-width="1.2"/><line x1="325.8" y1="310.5" x2="345.4" y2="310.5" stroke="#222" stroke-width="1.2"/><line x1="346.6" y1="310.5" x2="374.8" y2="310.5" stroke="#222" stroke-width="1.2"/><g transform="translate(261.0,322.0) rotate(-44)"><text x="0" y="2.3" font-size="6.5" fill="#3a3a3a" stroke="#3a3a3a" stroke-width="0.12" text-anchor="middle">2.5Gy</text><text x="0" y="9.0" font-size="6.5" fill="#3a3a3a" stroke="#3a3a3a" stroke-width="0.12" text-anchor="middle">1 site</text></g><g transform="translate(278.5,322.4) rotate(-44)"><text x="0" y="2.3" font-size="6.5" fill="#3a3a3a" stroke="#3a3a3a" stroke-width="0.12" text-anchor="middle">2.5Gy</text><text x="0" y="9.0" font-size="6.5" fill="#3a3a3a" stroke="#3a3a3a" stroke-width="0.12" text-anchor="middle">2 sites</text></g><g transform="translate(294.7,322.4) rotate(-44)"><text x="0" y="2.3" font-size="6.5" fill="#3a3a3a" stroke="#3a3a3a" stroke-width="0.12" text-anchor="middle">2.5Gy</text><text x="0" y="9.0" font-size="6.5" fill="#3a3a3a" stroke="#3a3a3a" stroke-width="0.12" text-anchor="middle">3 sites</text></g><g transform="translate(314.3,321.4) rotate(-44)"><text x="0" y="2.3" font-size="6.5" fill="#3a3a3a" stroke="#3a3a3a" stroke-width="0.12" text-anchor="middle">10Gy</text><text x="0" y="9.0" font-size="6.5" fill="#3a3a3a" stroke="#3a3a3a" stroke-width="0.12" text-anchor="middle">3 sites</text></g><g transform="translate(333.9,321.9) rotate(-44)"><text x="0" y="2.3" font-size="6.5" fill="#3a3a3a" stroke="#3a3a3a" stroke-width="0.12" text-anchor="middle">20Gy</text><text x="0" y="9.0" font-size="6.5" fill="#3a3a3a" stroke="#3a3a3a" stroke-width="0.12" text-anchor="middle">3 sites</text></g><g transform="translate(357.5,322.1) rotate(-44)"><text x="0" y="2.3" font-size="6.5" fill="#3a3a3a" stroke="#3a3a3a" stroke-width="0.12" text-anchor="middle">30Gy</text><text x="0" y="9.0" font-size="6.5" fill="#3a3a3a" stroke="#3a3a3a" stroke-width="0.12" text-anchor="middle">3 sites</text></g><text x="0" y="0" transform="translate(356.10,197.44) scale(0.945,1)" font-size="6.3" fill="#222" text-anchor="start" font-weight="normal" stroke="#222" stroke-width="0.1" >Objective response</text><polygon points="358.5,207.2 362.8,207.2 360.65,203.1" fill="#1f3560"/><text x="0" y="0" transform="translate(369.00,207.54) scale(0.945,1)" font-size="6.3" fill="#222" text-anchor="start" font-weight="normal" stroke="#222" stroke-width="0.1" >CMR</text><polygon points="358.5,213.7 362.8,213.7 360.65,209.6" fill="#b8203a"/><text x="0" y="0" transform="translate(369.00,214.04) scale(0.945,1)" font-size="6.3" fill="#222" text-anchor="start" font-weight="normal" stroke="#222" stroke-width="0.1" >PMR</text><rect x="359.3" y="220.7" width="5.5" height="4.9" fill="#c9c9cd"/><text x="0" y="0" transform="translate(369.00,225.64) scale(0.945,1)" font-size="6.3" fill="#222" text-anchor="start" font-weight="normal" stroke="#222" stroke-width="0.1" >In-treated volume</text><rect x="359.3" y="231.2" width="5.5" height="5.3" fill="#2f9fd4"/><text x="0" y="0" transform="translate(369.00,235.84) scale(0.945,1)" font-size="6.3" fill="#222" text-anchor="start" font-weight="normal" stroke="#222" stroke-width="0.1" >Out-of-treated volume</text></svg>
<div style="position:absolute;left:0.00px;top:340.00px;width:520.00px;height:1.00px;background:#b0b0b0;"></div>
<div style="position:absolute;left:518.00px;top:0.00px;width:1.00px;height:342.00px;background:#c8c8c8;"></div>
<div style="position:absolute;left:0.00px;top:0.00px;width:520.00px;height:1.00px;background:#555;"></div>
<div style="position:absolute;left:0.00px;top:0.00px;width:1.00px;height:342.00px;background:#555;"></div>
<div style="position:absolute;left:519.00px;top:0.00px;width:1.00px;height:342.00px;background:#5a5a5a;"></div>
<div style="position:absolute;left:0.00px;top:341.00px;width:520.00px;height:1.00px;background:#555;"></div>
</div></body></html>
